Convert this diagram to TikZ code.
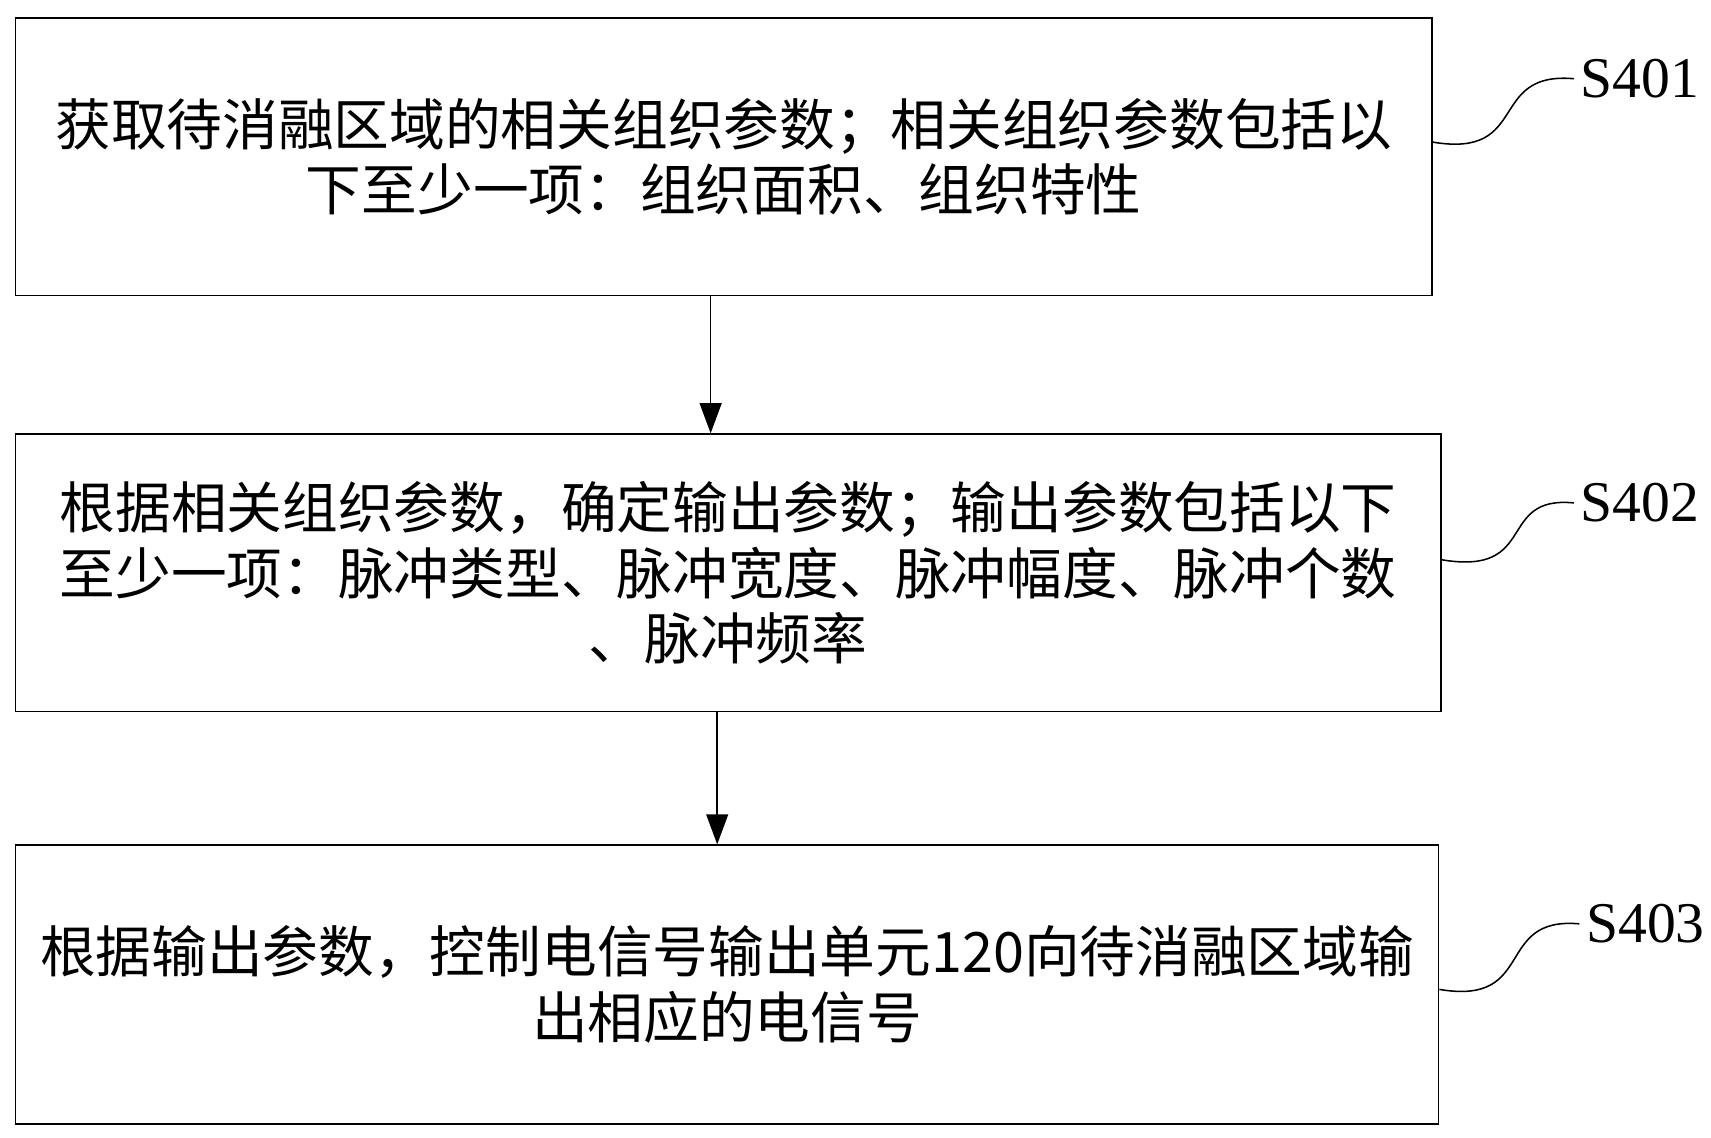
\documentclass[tikz,border=0pt]{standalone}
\usepackage{fontspec}
\setmainfont{Liberation Serif}
\newfontfamily\cjk{Noto Sans CJK SC}
\usetikzlibrary{positioning,arrows.meta}

\tikzset{
  stepbox/.style={draw,line width=0.8pt,minimum width=26cm,minimum height=5.08cm,
    align=center,font=\cjk\fontsize{29}{34}\selectfont,inner sep=0pt},
  flow/.style={-{Triangle[length=0.55cm,width=0.4cm]},line width=0.8pt},
  tag/.style={font=\fontsize{30}{34}\selectfont},
  wiggle/.style={line width=0.8pt}
}

\begin{document}
\begin{tikzpicture}[x=0.02cm,y=-0.02cm]
				\useasboundingbox (0,0) rectangle (1565,1040);
				% steps
				\node[stepbox,minimum width=25.92cm] (s1) at (662,143.5)
				{获取待消融区域的相关组织参数；相关组织参数包括以\\下至少一项：组织面积、组织特性};
				\node[stepbox,minimum width=26.08cm] (s2) at (666,524)
				{根据相关组织参数，确定输出参数；输出参数包括以下\\至少一项：脉冲类型、脉冲宽度、脉冲幅度、脉冲个数\\、脉冲频率};
				\node[stepbox,minimum width=26.04cm,minimum height=5.1cm] (s3) at (665,900.5)
				{根据输出参数，控制电信号输出单元120向待消融区域输\\出相应的电信号};
				% arrows
				\draw[flow] (s1.south -| 650,0) -- (s2.north -| 650,0);
				\draw[flow] (s2.south -| 656,0) -- (s3.north -| 656,0);
				% labels
				\node[tag] (t1) at (1500,72) {S401};
				\node[tag] (t2) at (1500,460) {S402};
				\node[tag] (t3) at (1505,845) {S403};
				\draw[wiggle] (s1.east |- 0,130) .. controls (1400,145) and (1360,65) .. (t1.west);
				\draw[wiggle] (s2.east |- 0,512) .. controls (1408,527) and (1368,453) .. (t2.west);
				\draw[wiggle] (s3.east |- 0,905) .. controls (1406,920) and (1366,838) .. (t3.west);
\end{tikzpicture}
\end{document}
